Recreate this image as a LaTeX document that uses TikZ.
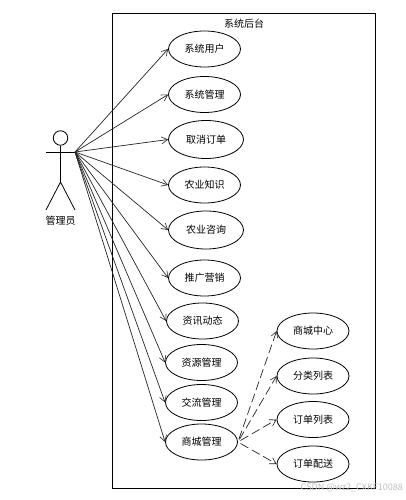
\documentclass[tikz,border=0pt]{standalone}
\usepackage{fontspec}
\setmainfont{Noto Sans CJK SC}
\usetikzlibrary{arrows.meta,shapes.geometric}
\tikzset{
  usecase/.style={draw=black,line width=0.8pt,ellipse,minimum width=72pt,minimum height=36pt,inner sep=0pt,font=\fontsize{10}{12}\selectfont,text=black},
  widecase/.style={usecase,minimum width=75pt,minimum height=38pt},
  assoc/.style={draw=black!85,line width=0.7pt,-{Straight Barb[length=6pt,width=7pt,line width=0.6pt]}},
  dep/.style={assoc,dash pattern=on 9pt off 4pt,shorten <=3pt},
  lbl/.style={font=\fontsize{10}{12}\selectfont,text=black,inner sep=0pt},
  stick/.style={draw=black,line width=0.8pt}
}
\begin{document}
\begin{tikzpicture}[x=1pt,y=-1pt]
\useasboundingbox[fill=white] (0,0) rectangle (406,500);
\node[draw=black,line width=0.8pt,minimum width=263pt,minimum height=475pt,inner sep=0pt,anchor=north west] (sys) at (112,13) {};
\node[lbl] (title) at (244,24) {系统后台};
% actor
\node[draw=black,line width=0.8pt,circle,minimum size=14.5pt,inner sep=0pt] (head) at (60.5,138) {};
\coordinate (lefthand) at (46,152);
\coordinate (hand) at (75,152);
\coordinate (hip) at (60.5,182);
\coordinate (leftfoot) at (46,210);
\coordinate (rightfoot) at (75,210);
\draw[stick] (head.south) -- (hip);
\draw[stick] (lefthand) -- (hand);
\draw[stick] (leftfoot) -- (hip) -- (rightfoot);
\node[lbl] (actor) at (60.5,221) {管理员};
% use cases
\node[usecase] (u1) at (204.5,49) {系统用户};
\node[usecase] (u2) at (204.5,94.5) {系统管理};
\node[widecase] (u3) at (206,139.5) {取消订单};
\node[usecase] (u4) at (204.5,185) {农业知识};
\node[widecase] (u5) at (206,230) {农业咨询};
\node[usecase] (u6) at (204.5,278) {推广营销};
\node[usecase] (u7) at (202.5,321) {资讯动态};
\node[usecase] (u8) at (201.5,362.5) {资源管理};
\node[usecase] (u9) at (201.5,402.5) {交流管理};
\node[usecase] (u10) at (201.5,442) {商城管理};
\node[usecase] (r1) at (313,331) {商城中心};
\node[usecase] (r2) at (313,376) {分类列表};
\node[usecase] (r3) at (313,419.5) {订单列表};
\node[usecase] (r4) at (313,464) {订单配送};
\foreach \n in {u1,u2,u3,u4,u5,u6,u7,u8,u9,u10}{
  \draw[assoc] (hand) -- (\n.west);
}
\foreach \n in {r1,r2,r3,r4}{
  \draw[dep] (u10.east) -- (\n.west);
}
\node[font=\fontsize{9}{11}\selectfont,text=black!25,inner sep=0pt,anchor=east] (mark) at (403,488) {CSDN @wz2\_CXKF10088};
\end{tikzpicture}
\end{document}
